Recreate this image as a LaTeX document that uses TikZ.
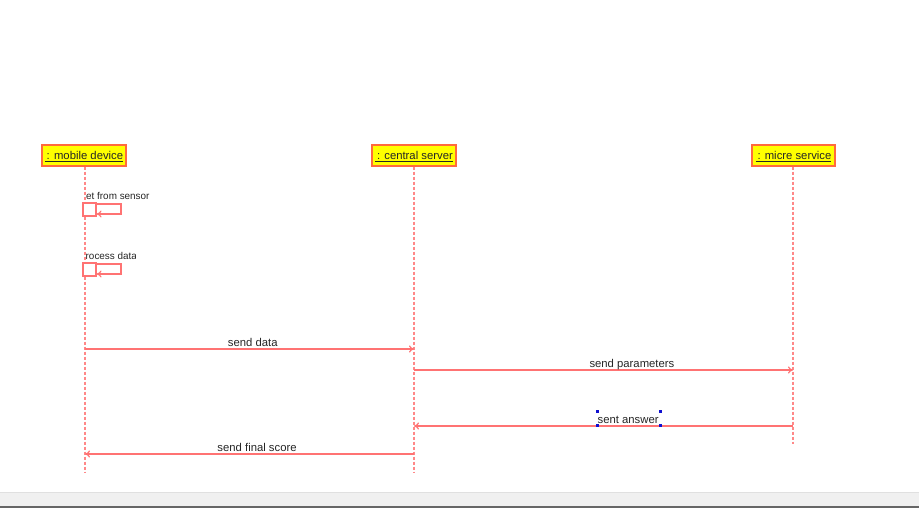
\documentclass[tikz,border=0pt]{standalone}
\usepackage{fontspec}
\setmainfont{Liberation Sans}
\usetikzlibrary{arrows.meta}
\definecolor{msgred}{HTML}{FF7373}
\definecolor{boxborder}{HTML}{FF6A3D}
\definecolor{boxfill}{HTML}{FFFF00}
\definecolor{barfill}{HTML}{F0F0F0}
\definecolor{handle}{HTML}{1010D0}
\tikzset{
  x=1pt, y=-1pt,
  objbox/.style={draw=boxborder, line width=1.3pt, fill=boxfill, minimum height=21pt,
    inner sep=0pt, text height=9pt, text depth=1pt,
    font=\fontsize{11.3}{13}\selectfont, text=black!85},
  lifeline/.style={draw=msgred!85, line width=1.2pt, dash pattern=on 3pt off 2pt},
  msg/.style={draw=msgred, line width=1.2pt, -{To[length=5pt,width=7pt]}},
  msglabel/.style={font=\fontsize{11.3}{13}\selectfont, text=black!85, inner sep=0pt, anchor=base},
  selflabel/.style={font=\fontsize{9.9}{12}\selectfont, text=black!85, inner sep=0pt, anchor=base west},
  actbox/.style={draw=msgred, line width=1.2pt, fill=white, minimum width=13pt, minimum height=13pt, inner sep=0pt},
  selhandle/.style={fill=handle, minimum size=3pt, inner sep=0pt}
}
\begin{document}
\begin{tikzpicture}
\useasboundingbox (0,0) rectangle (919,510);
\fill[white] (0,0) rectangle (919,510);

% status strip along the bottom edge
\fill[barfill] (0,492) rectangle (919,508);
\draw[black!12, line width=0.8pt] (0,492) -- (919,492);
\draw[black!60, line width=1.4pt] (0,507) -- (919,507);

% objects
\node[objbox, minimum width=84pt] (mobile) at (84,155.5) {\underline{\,: mobile device}};
\node[objbox, minimum width=84pt] (server) at (414,155.5) {\underline{\,: central server}};
\node[objbox, minimum width=83pt] (micro)  at (793.5,155.5) {\underline{\,: micre service}};

% lifeline ends
\coordinate (mobileEnd) at (85,472);
\coordinate (serverEnd) at (414,472);
\coordinate (microEnd)  at (793,444);
\draw[lifeline] (mobile.south -| mobileEnd) -- (mobileEnd);
\draw[lifeline] (server.south) -- (serverEnd);
\draw[lifeline] (micro.south -| microEnd) -- (microEnd);

% self call: get from sensor
\node[actbox] (act1) at (89.5,209.5) {};
\coordinate (loop1a) at (121,204);
\coordinate (loop1b) at (121,214);
\draw[msg] (act1.east |- loop1a) -- (loop1a) -- (loop1b) -- (act1.east |- loop1b);
\begin{scope}
  \clip (85,185) rectangle (150,202);
  \node[selflabel] (lbl1) at (86,200) {et from sensor};
\end{scope}

% self call: process data
\node[actbox] (act2) at (89.5,269.5) {};
\coordinate (loop2a) at (121,264);
\coordinate (loop2b) at (121,274);
\draw[msg] (act2.east |- loop2a) -- (loop2a) -- (loop2b) -- (act2.east |- loop2b);
\begin{scope}
  \clip (85,245) rectangle (135,262);
  \node[selflabel] (lbl2) at (85.5,260) {rocess data};
\end{scope}

% messages between lifelines
\coordinate (m1s) at (85,349);  \coordinate (m1e) at (414,349);
\draw[msg] (m1s) -- node[msglabel, above=2pt, anchor=base, pos=0.51] (l1) {send data} (m1e);

\coordinate (m2s) at (414,370); \coordinate (m2e) at (793,370);
\draw[msg] (m2s) -- node[msglabel, above=2pt, anchor=base, pos=0.575] (l2) {send parameters} (m2e);

\coordinate (m3s) at (793,426); \coordinate (m3e) at (414,426);
\draw[msg] (m3s) -- node[msglabel, above=2pt, anchor=base, pos=0.435] (l3) {sent answer} (m3e);

\coordinate (m4s) at (414,454); \coordinate (m4e) at (85,454);
\draw[msg] (m4s) -- node[msglabel, above=2pt, anchor=base, pos=0.477] (l4) {send final score} (m4e);

% selection handles around the selected label
\node[selhandle] (h1) at (597,412) {};
\node[selhandle] (h2) at (660,412) {};
\node[selhandle] (h3) at (597,426) {};
\node[selhandle] (h4) at (660,426) {};
\end{tikzpicture}
\end{document}
